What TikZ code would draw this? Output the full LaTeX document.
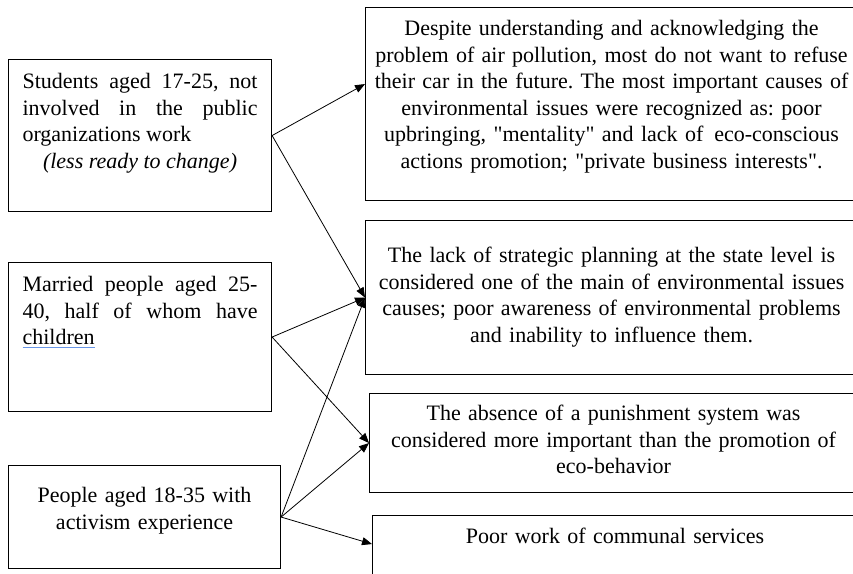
\documentclass[tikz,border=0pt]{standalone}
\usepackage{fontspec}
\setmainfont{Liberation Serif}[Ligatures=TeXOff]
\usetikzlibrary{arrows.meta}
\definecolor{spellblue}{RGB}{104,150,232}
\newcommand{\spellmark}[1]{\setbox0\hbox{#1}\rlap{\textcolor{spellblue}{\rule[-3.6pt]{\wd0}{1.4pt}}}\box0}
\frenchspacing

\begin{document}
\begin{tikzpicture}[x=1pt,y=-1pt,>={Triangle[length=10pt,width=8pt]},
  every node/.style={font=\fontsize{22}{26.5}\selectfont},
  group/.style={draw,line width=1.1pt,anchor=north west,inner xsep=14pt,inner ysep=14pt,text width=235pt,align=justify},
  finding/.style={draw,line width=1.1pt,anchor=north west,inner xsep=4pt,inner ysep=14pt,align=center}]
\useasboundingbox (0,0) rectangle (853,573);
\clip (0,0) rectangle (853,573);
% respondent groups
\node[group,text height=15pt,text depth=109pt] (students) at (8,59)
  {Students aged 17-25, not\linebreak involved in the public\linebreak organizations work\par
   {\centering\itshape (less ready to change)\par}};
\node[group,text height=15pt,text depth=106pt] (married) at (8,262)
  {Married people aged 25-\linebreak 40, half of whom have\linebreak \spellmark{children}};
\node[group,align=center,text width=244pt,text height=23pt,text depth=52pt] (activists) at (8,465)
  {People aged 18-35 with\\ activism experience};
% findings
\node[finding,text width=484pt,text height=14pt,text depth=151pt] (refuse) at (365,7)
  {Despite understanding and acknowledging the\\ problem of air pollution, most do not want to refuse\\
   their car in the future. The most important causes of\\ environmental issues were recognized as: poor\\
   upbringing, "mentality" and lack of\, eco-conscious\\ actions promotion; "private business interests".};
\node[finding,text width=484pt,text height=28pt,text depth=98pt] (planning) at (365,220)
  {The lack of strategic planning at the state level is\\ considered one of the main of environmental issues\\
   causes; poor awareness of environmental problems\\ and inability to influence them.};
\node[finding,text width=480pt,text height=13pt,text depth=58pt] (punish) at (369,393)
  {The absence of a punishment system was\\ considered more important than the promotion of\\ eco-behavior};
\node[finding,text width=477pt,text height=14pt,text depth=43pt] (services) at (372,515)
  {Poor work of communal services};
\coordinate (refuse-in) at ([yshift=20pt]refuse.west);
\coordinate (planning-in) at (planning.west);
\coordinate (punish-in) at (punish.west);
\coordinate (services-in) at ([yshift=14pt]services.west);
\foreach \a/\b in {students/refuse,students/planning,married/planning,married/punish,
  activists/planning,activists/punish,activists/services}
  \draw[->,line width=0.8pt] (\a.east) -- (\b-in);
\end{tikzpicture}
\end{document}
